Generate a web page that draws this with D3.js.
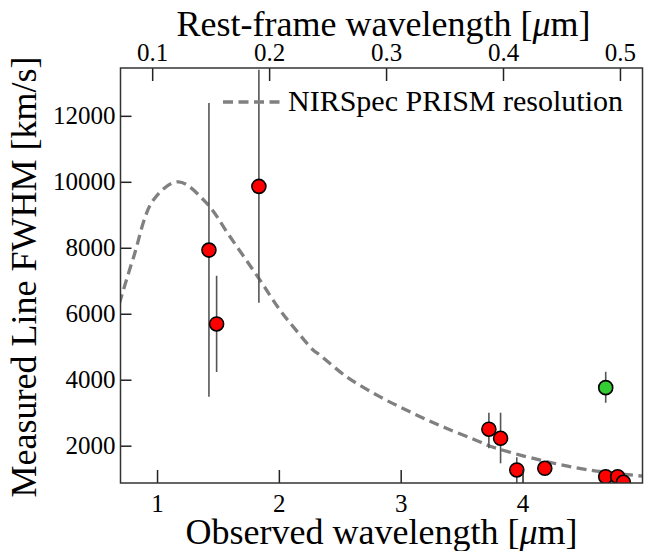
<!DOCTYPE html>
<html lang="en">
<head>
<meta charset="UTF-8" />
<title>Line FWHM vs wavelength</title>
<script src="https://cdn.jsdelivr.net/npm/d3@7"></script>
<style>
  body { margin: 0; background: #fff; }
  text { font-family: "Liberation Serif", "Times New Roman", serif; fill: #000; }
</style>
</head>
<body>
<script>
  var w = 645, h = 551;
  var margin = { left: 120.5, right: 2.5, top: 68, bottom: 68 };
  var onePlusZ = 9.6;

  // measured lines: observed wavelength [um], FWHM [km/s], error bar ends
  var obsWave = [1.426, 1.489, 1.836, 3.724, 3.820, 3.953, 4.183, 4.683, 4.683, 4.781, 4.828];
  var fwhm    = [7930, 5690, 9860, 2500, 2225, 1265, 1315, 3760, 1060, 1060, 890];
  var errLow  = [3480, 4235, 6330, 1920, 1465, 870, null, 3305, null, null, null];
  var errHigh = [12390, 7150, 13400, 3000, 3000, 1650, null, 4245, null, null, null];
  var pointColor = ["red", "red", "red", "red", "red", "red", "red", "#33cc33", "red", "red", "red"];

  // NIRSpec PRISM resolution curve
  var resWave = [0.69, 0.806, 0.97, 1.175, 1.407, 1.598, 1.844, 2.008, 2.117, 2.281, 2.336, 2.555, 2.828, 3.101, 3.375, 3.648, 3.73, 4.14, 4.55, 4.99];
  var resFwhm = [6300, 7700, 9450, 9998, 9352, 8340, 7026, 6116, 5610, 4903, 4751, 4093, 3487, 2983, 2528, 2121, 1990, 1567, 1263, 1075];

  var xTicks = [1, 2, 3, 4];
  var yTicks = [2000, 4000, 6000, 8000, 10000, 12000];
  var restTicks = [0.1, 0.2, 0.3, 0.4, 0.5];

  var svg = d3.select("body").append("svg")
    .attr("width", w)
    .attr("height", h);

  var xScale = d3.scaleLinear()
    .domain([0.7, 4.985])
    .range([margin.left, w - margin.right]);

  var yScale = d3.scaleLinear()
    .domain([869, 13450])
    .range([h - margin.bottom, margin.top]);

  // rest-frame axis shares the pixel range
  var restScale = d3.scaleLinear()
    .domain([0.7 / onePlusZ, 4.985 / onePlusZ])
    .range([margin.left, w - margin.right]);

  svg.append("clipPath")
    .attr("id", "plotclip")
    .append("rect")
    .attr("x", margin.left)
    .attr("y", margin.top)
    .attr("width", w - margin.left - margin.right)
    .attr("height", h - margin.top - margin.bottom);

  var plot = svg.append("g").attr("clip-path", "url(#plotclip)");

  var line = d3.line()
    .x(function(d, i) { return xScale(resWave[i]); })
    .y(function(d) { return yScale(d); })
    .curve(d3.curveCatmullRom);

  plot.append("path")
    .attr("d", line(resFwhm))
    .attr("fill", "none")
    .attr("stroke", "#808080")
    .attr("stroke-width", 3.3)
    .attr("stroke-dasharray", "10,5.5");

  var idx = d3.range(obsWave.length);

  plot.selectAll(".err")
    .data(idx.filter(function(i) { return errLow[i] !== null; }))
    .enter()
    .append("line")
    .attr("class", "err")
    .attr("x1", function(i) { return xScale(obsWave[i]); })
    .attr("x2", function(i) { return xScale(obsWave[i]); })
    .attr("y1", function(i) { return yScale(errLow[i]); })
    .attr("y2", function(i) { return yScale(errHigh[i]); })
    .attr("stroke", "#555")
    .attr("stroke-width", 1.6);

  plot.selectAll("circle")
    .data(idx)
    .enter()
    .append("circle")
    .attr("cx", function(i) { return xScale(obsWave[i]); })
    .attr("cy", function(i) { return yScale(fwhm[i]); })
    .attr("r", 7)
    .attr("fill", function(i) { return pointColor[i]; })
    .attr("stroke", "#000")
    .attr("stroke-width", 1.6);

  // axes with inward ticks
  var xAxis = d3.axisBottom(xScale).tickValues(xTicks).tickSize(-13).tickPadding(11).tickFormat(d3.format("d"));
  var topAxis = d3.axisTop(restScale).tickValues(restTicks).tickSize(-13).tickPadding(7).tickFormat(d3.format(".1f"));
  var yAxis = d3.axisLeft(yScale).tickValues(yTicks).tickSize(-11).tickPadding(5).tickFormat(d3.format("d"));

  svg.append("g")
    .attr("class", "xaxis")
    .attr("transform", "translate(0," + (h - margin.bottom) + ")")
    .call(xAxis);

  svg.append("g")
    .attr("class", "topaxis")
    .attr("transform", "translate(0," + margin.top + ")")
    .call(topAxis);

  svg.append("g")
    .attr("class", "yaxis")
    .attr("transform", "translate(" + margin.left + ",0)")
    .call(yAxis);

  svg.selectAll(".domain").remove();
  svg.selectAll(".tick line").attr("stroke", "#222").attr("stroke-width", 1.5);
  svg.selectAll(".tick text")
    .attr("font-family", null)
    .style("font-size", "25px")
    .style("font-family", "'Liberation Serif', serif");

  // frame
  svg.append("rect")
    .attr("x", margin.left)
    .attr("y", margin.top)
    .attr("width", w - margin.left - margin.right)
    .attr("height", h - margin.top - margin.bottom)
    .attr("fill", "none")
    .attr("stroke", "#333")
    .attr("stroke-width", 1.5);

  // legend
  svg.append("line")
    .attr("x1", 223).attr("x2", 285)
    .attr("y1", 102).attr("y2", 102)
    .attr("stroke", "#808080")
    .attr("stroke-width", 3.3)
    .attr("stroke-dasharray", "10,5.5");

  svg.append("text")
    .attr("x", 288)
    .attr("y", 111)
    .style("font-size", "30px")
    .text("NIRSpec PRISM resolution");

  // axis titles
  var xt = svg.append("text")
    .attr("x", (margin.left + w - margin.right) / 2)
    .attr("y", 544)
    .attr("text-anchor", "middle")
    .style("font-size", "36px");
  xt.append("tspan").text("Observed wavelength [");
  xt.append("tspan").style("font-style", "italic").text("μ");
  xt.append("tspan").text("m]");

  var tt = svg.append("text")
    .attr("x", (margin.left + w - margin.right) / 2 + 2)
    .attr("y", 36)
    .attr("text-anchor", "middle")
    .style("font-size", "36px");
  tt.append("tspan").text("Rest-frame wavelength [");
  tt.append("tspan").style("font-style", "italic").text("μ");
  tt.append("tspan").text("m]");

  svg.append("text")
    .attr("transform", "translate(36," + 277 + ") rotate(-90)")
    .attr("text-anchor", "middle")
    .style("font-size", "36px")
    .text("Measured Line FWHM [km/s]");
</script>
</body>
</html>
